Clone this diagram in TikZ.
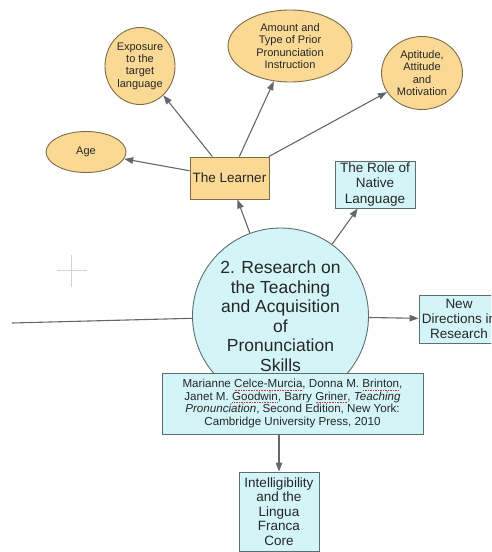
\documentclass[tikz,border=0pt]{standalone}
\usepackage{fontspec}
\setmainfont{Liberation Sans}
\usetikzlibrary{shapes.geometric,arrows.meta}
\definecolor{learnfill}{HTML}{FAD995}
\definecolor{learnline}{HTML}{7F6B45}
\definecolor{topicfill}{HTML}{D3F5F8}
\definecolor{topicline}{HTML}{5E6E6F}
\definecolor{linkgray}{HTML}{63676E}
\definecolor{spellred}{HTML}{D03030}

% red dotted mark under a word
\newcommand\spellchk[1]{\leavevmode\setbox0\hbox{#1}%
  \rlap{\color{spellred}\raisebox{-2.6pt}{\hbox to \wd0{\xleaders\hbox to 1.6pt{\hss\rule{0.9pt}{0.9pt}\hss}\hfill}}}\box0}

\begin{document}
\begin{tikzpicture}[x=1pt,y=-1pt,
    factor/.style={ellipse, draw=learnline, fill=learnfill, line width=0.9pt, inner sep=0pt,
      align=center, text=black!85, font=\fontsize{11}{12.4}\selectfont},
    learnbox/.style={rectangle, draw=learnline, fill=learnfill, line width=0.9pt, inner sep=0pt,
      align=center, text=black!85},
    topicbox/.style={rectangle, draw=topicline, fill=topicfill, line width=0.9pt, inner sep=0pt,
      align=center, text=black!85},
    link/.style={draw=linkgray, line width=1.1pt, -{Triangle[length=9pt,width=6.5pt]}},
    plain/.style={draw=linkgray, line width=1.1pt}]
  \clip (0,0) rectangle (491,552);

  % learner factors
  \node[factor, minimum width=80, minimum height=41] (age) at (86,152) {Age};
  \node[factor, minimum width=70, minimum height=77] (exposure) at (140,66) {Exposure\\to the\\target\\language};
  \node[factor, minimum width=124, minimum height=72] (amount) at (290,46) {Amount and\\Type of Prior\\Pronunciation\\Instruction};
  \node[factor, minimum width=81, minimum height=73] (aptitude) at (422,73) {Aptitude,\\Attitude\\and\\Motivation};
  \node[learnbox, minimum width=79, minimum height=42, font=\fontsize{13.5}{15.5}\selectfont] (learner) at (229.5,178) {The Learner};

  % main topic
  \node[circle, draw=topicline, fill=topicfill, line width=0.9pt, inner sep=0pt, minimum size=176,
    align=center, text=black!85, font=\fontsize{17.5}{19.5}\selectfont] (topic) at (280.5,316)
    {2. Research on\\the Teaching\\and Acquisition\\of\\Pronunciation\\Skills};
  \node[topicbox, minimum width=80, minimum height=47, font=\fontsize{13.5}{15.5}\selectfont] (native) at (375,184.5) {The Role of\\Native\\Language};
  \node[topicbox, minimum width=80, minimum height=48, font=\fontsize{13.5}{15}\selectfont] (newdir) at (459,319) {New\\Directions in\\Research};
  \node[topicbox, minimum width=261, minimum height=61, font=\fontsize{11.6}{12.4}\selectfont] (cite) at (292.5,403.5)
    {Marianne \spellchk{Celce-Murcia}, Donna M. \spellchk{Brinton},\\
     Janet M. \spellchk{Goodwin}, Barry \spellchk{Griner}, \textit{Teaching}\\
     \textit{Pronunciation}, Second Edition, New York:\\
     Cambridge University Press, 2010};
  \node[topicbox, minimum width=80, minimum height=79, font=\fontsize{13.5}{14.4}\selectfont] (intel) at (279,511.5)
    {Intelligibility\\and the\\Lingua\\Franca\\Core};
  \coordinate (offleft) at (12,323);

  % connectors
  \draw[link] (learner) -- (age);
  \draw[link] (learner) -- (exposure);
  \draw[link] (learner) -- (amount);
  \draw[link] (learner) -- (aptitude);
  \draw[link] (topic) -- (learner);
  \draw[link] (topic) -- (native);
  \draw[link] (topic) -- (newdir);
  \draw[plain] (offleft) -- (topic);
  \draw[link] (cite.south -| intel.north) -- (intel.north);

  % cursor cross
  \draw[gray!35, line width=0.6pt] (57,270) -- (87,270) (71,255) -- (71,287);
\end{tikzpicture}
\end{document}
